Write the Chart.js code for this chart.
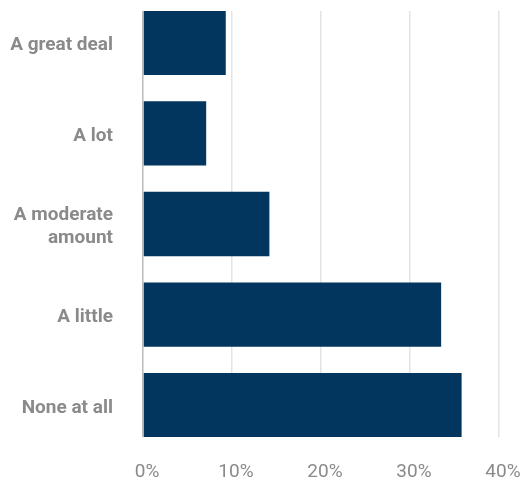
<!DOCTYPE html>
<html>
<head>
<meta charset="utf-8">
<script src="https://cdn.jsdelivr.net/npm/chart.js@4/dist/chart.umd.min.js"></script>
<style>
  html, body { margin: 0; padding: 0; background: #ffffff; }
  #wrap { width: 523px; height: 483px; position: relative; }
</style>
</head>
<body>
<div id="wrap"><canvas id="chart"></canvas></div>
<script>
// rows top to bottom, share of answers in percent
const labels = ["A great deal", "A lot", ["A moderate", "amount"], "A little", "None at all"];
const values = [9.3, 7.1, 14.2, 33.5, 35.8];
const xTicks = [0, 10, 20, 30, 40];

const barColor = "#03365f";
const textColor = "#8a8a8c";

// bars placed on a linear index axis so the rows keep an even pitch
const points = values.map((v, i) => ({ x: v, y: i }));

const ctx = document.getElementById("chart").getContext("2d");
new Chart(ctx, {
  type: "bar",
  data: {
    datasets: [
      {
        data: points,
        backgroundColor: barColor,
        borderWidth: 0,
        categoryPercentage: 1,
        barPercentage: 0.71,
      },
    ],
  },
  options: {
    indexAxis: "y",
    responsive: true,
    maintainAspectRatio: false,
    animation: false,
    layout: { padding: { top: 11, left: 0, right: 24, bottom: 0 } },
    plugins: {
      legend: { display: false },
      tooltip: { enabled: false },
    },
    scales: {
      x: {
        type: "linear",
        min: xTicks[0],
        max: xTicks[xTicks.length - 1],
        afterBuildTicks: (scale) => {
          scale.ticks = xTicks.map((v) => ({ value: v }));
        },
        afterFit: (scale) => {
          scale.height = 46;
          scale.paddingLeft = 0;
          scale.paddingRight = 0;
        },
        border: { display: false },
        grid: {
          color: (c) => (c.tick && c.tick.value === 0 ? "#b9bcc0" : "#e3e3e3"),
          lineWidth: 1.5,
          drawTicks: false,
        },
        ticks: {
          padding: 24,
          labelOffset: 4,
          color: textColor,
          font: { family: "Roboto", size: 19 },
          callback: (v) => v + "%",
        },
      },
      y: {
        type: "linear",
        reverse: true,
        offset: false,
        min: -0.35,
        max: labels.length - 1 + 0.35,
        afterBuildTicks: (scale) => {
          scale.ticks = labels.map((l, i) => ({ value: i }));
        },
        afterFit: (scale) => {
          scale.width = 143;
          scale.paddingTop = 0;
          scale.paddingBottom = 0;
        },
        border: { display: false },
        grid: { display: false, drawTicks: false, offset: false },
        ticks: {
          padding: 30,
          labelOffset: 3,
          color: textColor,
          font: { family: "Roboto", size: 19, weight: "bold" },
          callback: (v) => labels[v],
        },
      },
    },
  },
});
</script>
</body>
</html>
